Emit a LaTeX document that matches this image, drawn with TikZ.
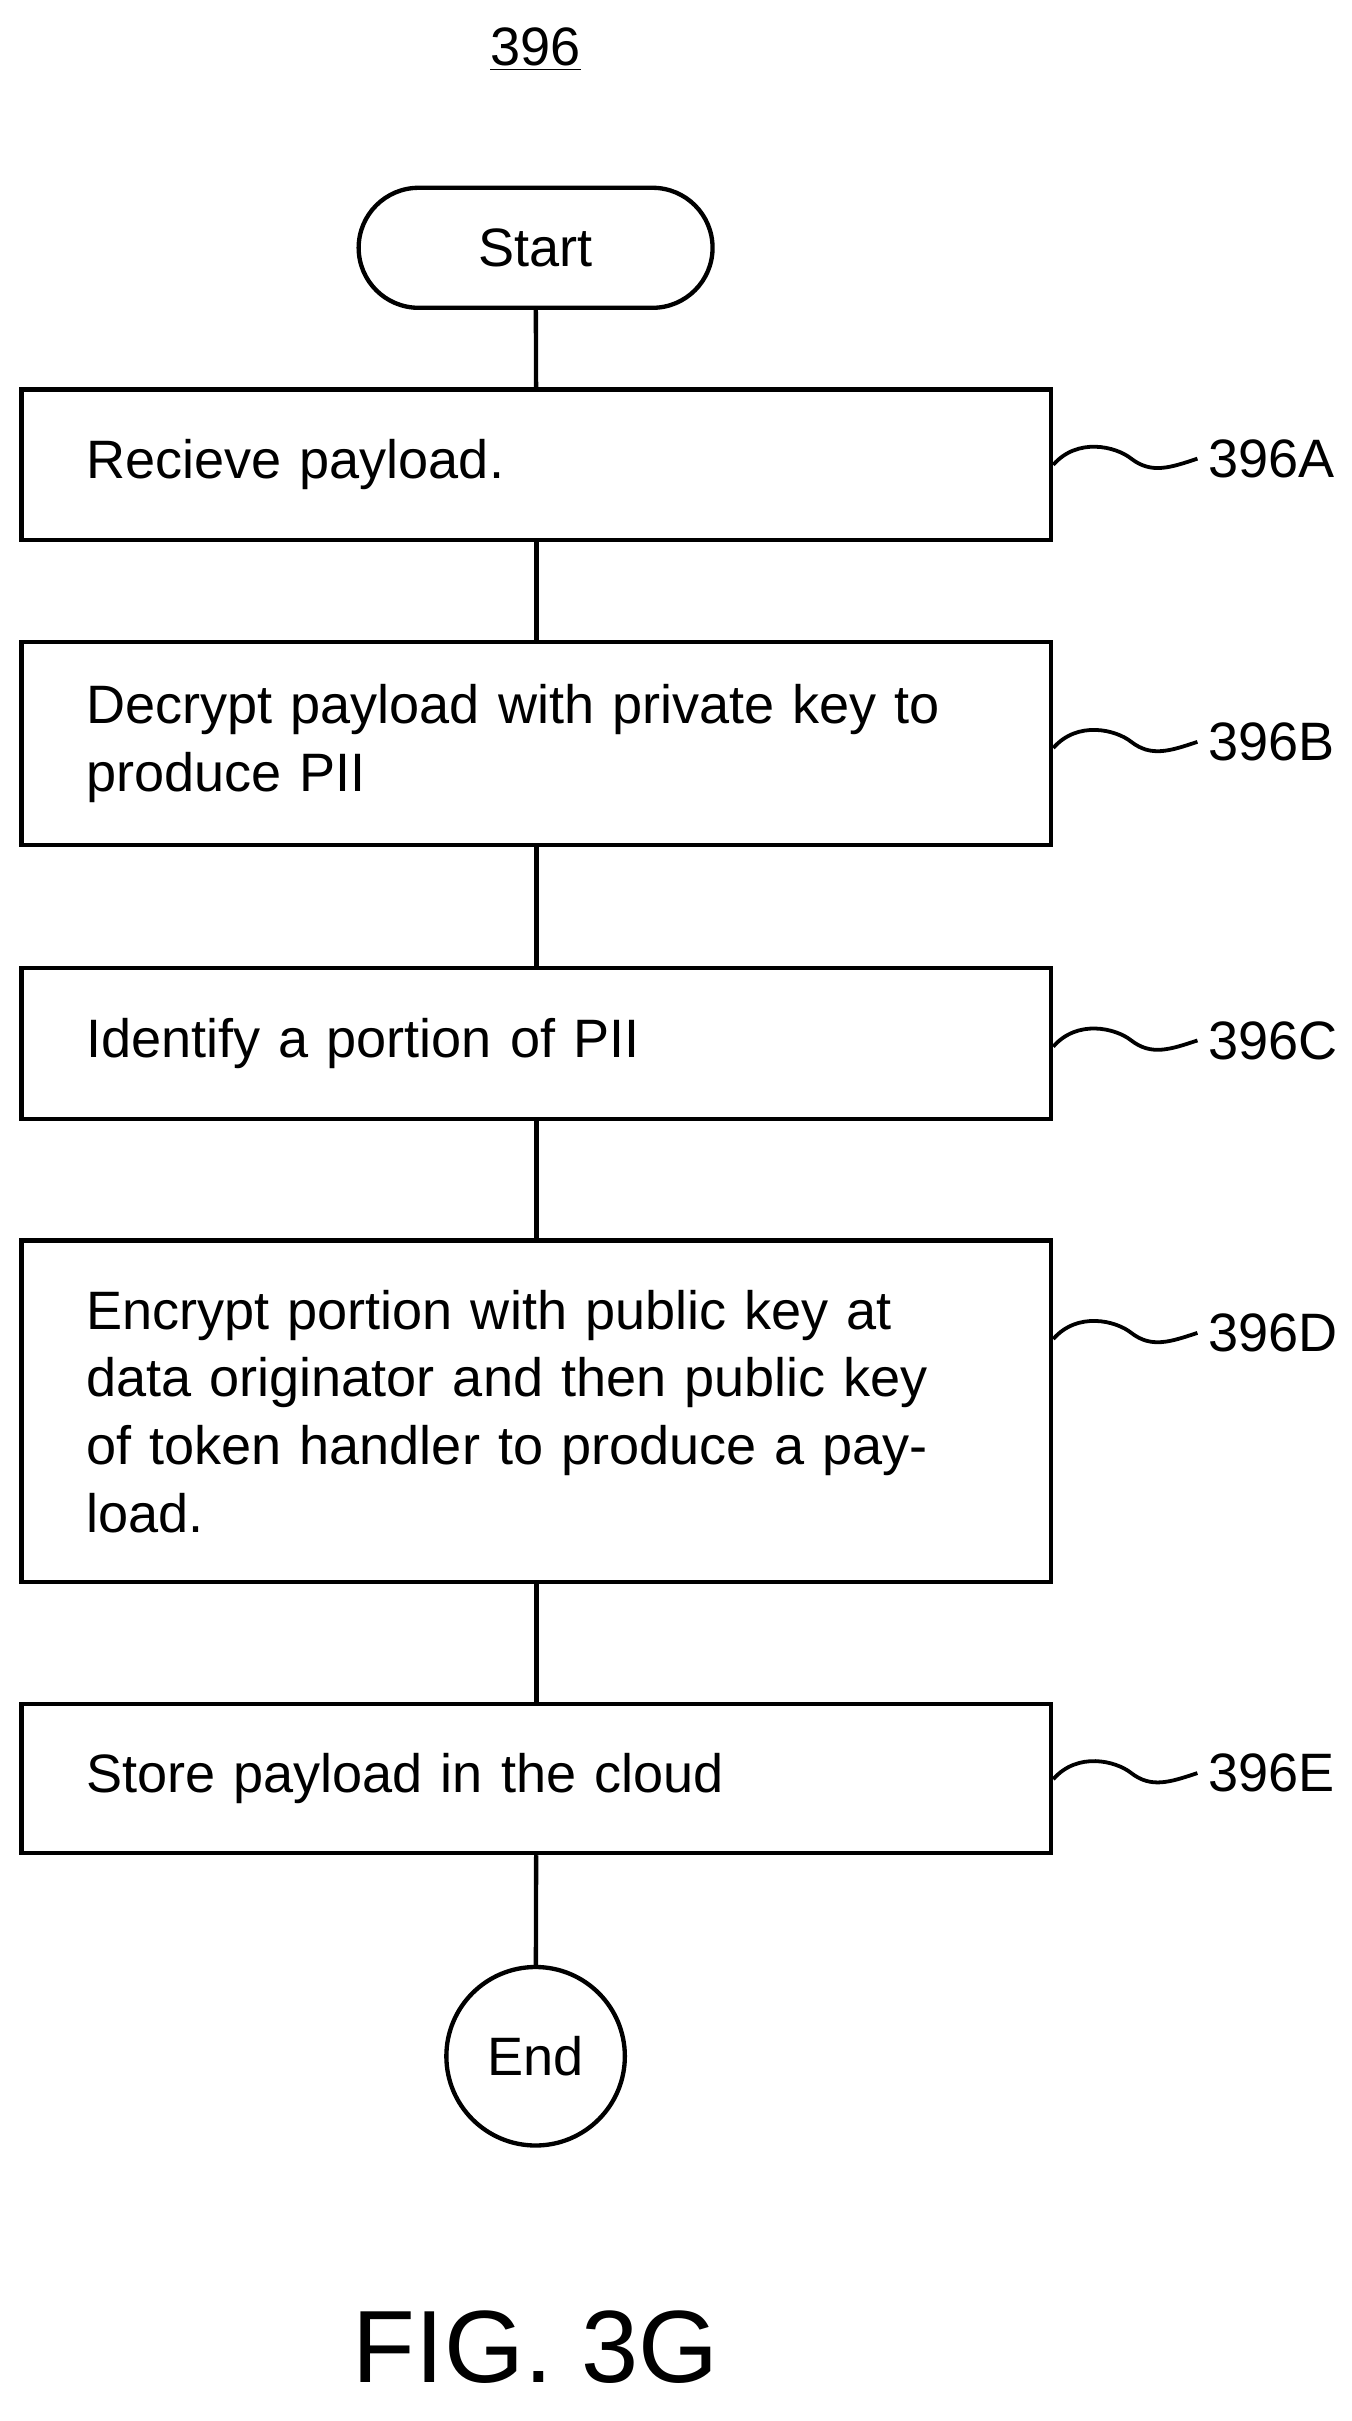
\documentclass[tikz,border=0pt]{standalone}
\usepackage{fontspec}
\setmainfont{Liberation Sans}
\begin{document}
\begin{tikzpicture}[x=0.02cm,y=-0.02cm,line width=1.6pt,
 box/.style={draw,rectangle,minimum width=13.38cm,inner xsep=0.84cm,text width=11.7cm,align=left,font=\fontsize{20}{25}\selectfont},
 lab/.style={font=\fontsize{20}{25}\selectfont,anchor=west},
 sq/.style={line width=1.4pt}]
\useasboundingbox (0,0) rectangle (878,1573);
\node[font=\fontsize{20}{25}\selectfont] (title) at (348,32) {\underline{396}};
\node[draw,rounded corners=0.78cm,minimum width=4.6cm,minimum height=1.56cm,font=\fontsize{20}{25}\selectfont] (start) at (348,161) {Start};
\node[box,minimum height=1.96cm] (a) at (348.5,302) {Recieve payload.};
\node[box,minimum height=2.64cm] (b) at (348.5,483) {Decrypt payload with private key to produce PII};
\node[box,minimum height=1.96cm] (c) at (348.5,678) {Identify a portion of PII};
\node[box,minimum height=4.44cm] (d) at (348.5,917) {Encrypt portion with public key at data originator and then public key of token handler to produce a payload.};
\node[box,minimum height=1.94cm] (e) at (348.5,1155.5) {Store payload in the cloud};
\node[draw,circle,minimum size=2.32cm,inner sep=0pt,font=\fontsize{20}{25}\selectfont] (end) at (348,1336) {End};
\draw (start) -- (a); \draw (a) -- (b); \draw (b) -- (c); \draw (c) -- (d); \draw (d) -- (e); \draw (e) -- (end);
\foreach \n/\y/\t in {a/298/396A,b/482/396B,c/676/396C,d/866/396D,e/1152/396E}{
 \node[lab] (l\n) at (778,\y) {\t};
 \draw[sq] (\n.east |- 0,\y+4) .. controls (700,\y-14) and (725,\y-8) .. (735,\y) .. controls (748,\y+10) and (760,\y+6) .. (l\n.west);
}
\node[font=\fontsize{38}{44}\selectfont] (fig) at (348,1525) {FIG. 3G};
\end{tikzpicture}
\end{document}
